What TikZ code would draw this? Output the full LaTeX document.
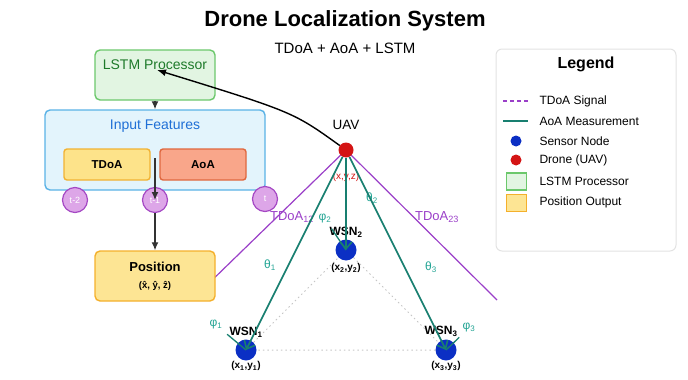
\documentclass[tikz,border=0pt]{standalone}
\usepackage{fontspec}
\setmainfont{Liberation Sans}
\usetikzlibrary{arrows.meta,backgrounds}
\definecolor{lstmfill}{HTML}{E2F5E2}
\definecolor{lstmdraw}{HTML}{6CC86C}
\definecolor{lstmtext}{HTML}{1E7A2A}
\definecolor{featfill}{HTML}{E3F4FC}
\definecolor{featdraw}{HTML}{5AB2E6}
\definecolor{feattext}{HTML}{1F6FD6}
\definecolor{tdoafill}{HTML}{FDE38A}
\definecolor{tdoadraw}{HTML}{F2B233}
\definecolor{aoafill}{HTML}{F9A68A}
\definecolor{aoadraw}{HTML}{E0683F}
\definecolor{tfill}{HTML}{DDA6E8}
\definecolor{tdraw}{HTML}{A548C4}
\definecolor{sigpurple}{HTML}{9A3FC8}
\definecolor{aoateal}{HTML}{187F70}
\definecolor{angteal}{HTML}{23A494}
\definecolor{wsnblue}{HTML}{0B2FC4}
\definecolor{uavred}{HTML}{D41414}
\definecolor{posfill}{HTML}{FDE594}
\definecolor{posdraw}{HTML}{F4B02C}
\tikzstyle{Box}=[rectangle, rounded corners=5, line width=1.4]
\tikzstyle{TimeStep}=[circle, minimum size=25, inner sep=0, fill=tfill, draw=tdraw, line width=1.2, text=white, font=\fontsize{9}{9}\selectfont]
\tikzstyle{Sensor}=[circle, minimum size=21, inner sep=0, fill=wsnblue]
\tikzstyle{Flow}=[draw=black!80, line width=1.3, -{Latex[length=8,width=7]}]
\tikzstyle{Aoa}=[draw=aoateal, line width=1.6]
\tikzstyle{Tdoa}=[draw=sigpurple, line width=1.2]
\tikzstyle{Angle}=[text=angteal, font=\fontsize{12}{12}\selectfont]
\tikzstyle{Key}=[anchor=west, font=\fontsize{12}{12}\selectfont]

\begin{document}
\begin{tikzpicture}[x=1pt,y=-1pt]
    \useasboundingbox (0,0) rectangle (688,380);
    \path
    (345,21) node[font=\fontsize{22}{22}\selectfont\bfseries] (title) {Drone Localization System}
    (345,48) node[font=\fontsize{15}{15}\selectfont] (subtitle) {TDoA + AoA + LSTM};

    % LSTM side
    \path
    (155,75) node[Box, minimum width=120, minimum height=50, fill=lstmfill, draw=lstmdraw] (lstm) {}
    (155,150) node[Box, minimum width=220, minimum height=80, fill=featfill, draw=featdraw] (feat) {}
    (107,164.5) node[Box, rounded corners=3, minimum width=86, minimum height=31, fill=tdoafill, draw=tdoadraw, font=\bfseries\fontsize{11.5}{12}\selectfont] (tdoa) {TDoA}
    (203,164.5) node[Box, rounded corners=3, minimum width=86, minimum height=31, fill=aoafill, draw=aoadraw, font=\bfseries\fontsize{11.5}{12}\selectfont] (aoa) {AoA}
    (75,200) node[TimeStep] (tm2) {t-2}
    (155,200) node[TimeStep] (tm1) {t-1}
    (265,199) node[TimeStep] (tnow) {t}
    (155,276) node[Box, minimum width=120, minimum height=50, fill=posfill, draw=posdraw, align=center] (pos) {{\bfseries\fontsize{13}{13}\selectfont Position}\\[5pt]{\bfseries\fontsize{9.5}{10}\selectfont (\^x, \^y, \^z)}};
    \draw (lstm.north) node[anchor=north, yshift=-7, text=lstmtext, font=\fontsize{14}{14}\selectfont] {LSTM Processor};
    \draw (feat.north) node[anchor=north, yshift=-7, text=feattext, font=\fontsize{14}{14}\selectfont] {Input Features};
    \coordinate (split) at (155,158);

    % drone and sensors
    \path
    (346,150) node[circle, fill=uavred, minimum size=15, inner sep=0] (uav) {}
    (246,350) node[Sensor] (s1) {}
    (346,250) node[Sensor] (s2) {}
    (446,350) node[Sensor] (s3) {};
    \draw (uav) node[yshift=25, font=\fontsize{13.5}{14}\selectfont] {UAV};
    \draw (uav) node[yshift=-27, text=uavred, font=\fontsize{10}{10}\selectfont] {(x,y,z)};
    \draw (s1) node[xshift=-30, yshift=25, Angle] (phi1) {φ\textsubscript{1}};
    \draw (s2) node[xshift=-21, yshift=31, Angle] (phi2) {φ\textsubscript{2}};
    \draw (s3) node[xshift=23, yshift=22, Angle] (phi3) {φ\textsubscript{3}};
    \draw (s1) node[yshift=18, font=\bfseries\fontsize{12}{12}\selectfont] {WSN\textsubscript{1}};
    \draw (s2) node[yshift=18, font=\bfseries\fontsize{12}{12}\selectfont] {WSN\textsubscript{2}};
    \draw (s3) node[xshift=-5, yshift=19, font=\bfseries\fontsize{12}{12}\selectfont] {WSN\textsubscript{3}};
    \draw (s1) node[yshift=-16, font=\bfseries\fontsize{10}{10}\selectfont] {(x\textsubscript{1},y\textsubscript{1})};
    \draw (s2) node[yshift=-18, font=\bfseries\fontsize{10}{10}\selectfont] {(x\textsubscript{2},y\textsubscript{2})};
    \draw (s3) node[yshift=-16, font=\bfseries\fontsize{10}{10}\selectfont] {(x\textsubscript{3},y\textsubscript{3})};
    \path
    (270,265) node[Angle] (th1) {θ\textsubscript{1}}
    (372,198) node[Angle] (th2) {θ\textsubscript{2}}
    (431,267) node[Angle] (th3) {θ\textsubscript{3}}
    (292,217) node[text=sigpurple, font=\fontsize{13}{13}\selectfont] (d12) {TDoA\textsubscript{12}}
    (437,217) node[text=sigpurple, font=\fontsize{13}{13}\selectfont] (d23) {TDoA\textsubscript{23}};
    \coordinate (hypL) at (205,287);
    \coordinate (hypR) at (497,300);

    \begin{scope}[on background layer]
    \draw[Tdoa] (uav.center) -- (hypL);
    \draw[Tdoa] (uav.center) -- (hypR);
    \draw[gray!45, line width=1, dash pattern=on 1.5 off 3] (s1) -- (s2) -- (s3) -- (s1);
    \end{scope}

    \draw[Aoa, -{Straight Barb[length=7,width=12]}] (uav) -- (s1.center);
    \draw[Aoa, -{Straight Barb[length=7,width=12]}] (uav) -- (s2.center);
    \draw[Aoa, -{Straight Barb[length=7,width=12]}] (uav) -- (s3.center);
    \draw[Aoa, line width=1.3, shorten >=2] (s1.center) -- (phi1);
    \draw[Aoa, line width=1.3, shorten >=2] (s2.center) -- (phi2);
    \draw[Aoa, line width=1.3, shorten >=2] (s3.center) -- (phi3);

    \draw[Flow] (lstm) -- (feat);
    \draw[Flow] (split) -- (tm1.center);
    \draw[Flow] (tm1) -- (pos);
    \draw[line width=1.4, -{Latex[length=9,width=7]}] (uav) .. controls (293,112) .. ([shift={(2,-5)}]lstm.center);

    % legend
    \path
    (586,150) node[rectangle, rounded corners=6, draw=gray!22, line width=1, fill=white, minimum width=180, minimum height=202] (legend) {}
    (536,101) node[Key] (k1) {TDoA Signal}
    (536,121) node[Key] (k2) {AoA Measurement}
    (536,141) node[Key] (k3) {Sensor Node}
    (536,160) node[Key] (k4) {Drone (UAV)}
    (536,181) node[Key] (k5) {LSTM Processor}
    (536,202) node[Key] (k6) {Position Output}
    (516,141) node[circle, fill=wsnblue, minimum size=11, inner sep=0] (m3) {}
    (516,160) node[circle, fill=uavred, minimum size=11, inner sep=0] (m4) {}
    (516.5,181.5) node[rectangle, fill=lstmfill, draw=lstmdraw, line width=1.3, minimum width=20, minimum height=17] (m5) {}
    (516.5,203) node[rectangle, fill=posfill, draw=posdraw, line width=1.3, minimum width=20, minimum height=17] (m6) {};
    \draw (legend.north) node[yshift=-16, font=\bfseries\fontsize{16}{16}\selectfont] {Legend};
    \coordinate (m1a) at (503,101);
    \coordinate (m1b) at (528,101);
    \coordinate (m2a) at (503,121);
    \coordinate (m2b) at (528,121);
    \draw[Tdoa, line width=1.4, dash pattern=on 4 off 3] (m1a) -- (m1b);
    \draw[Aoa] (m2a) -- (m2b);
\end{tikzpicture}
\end{document}
